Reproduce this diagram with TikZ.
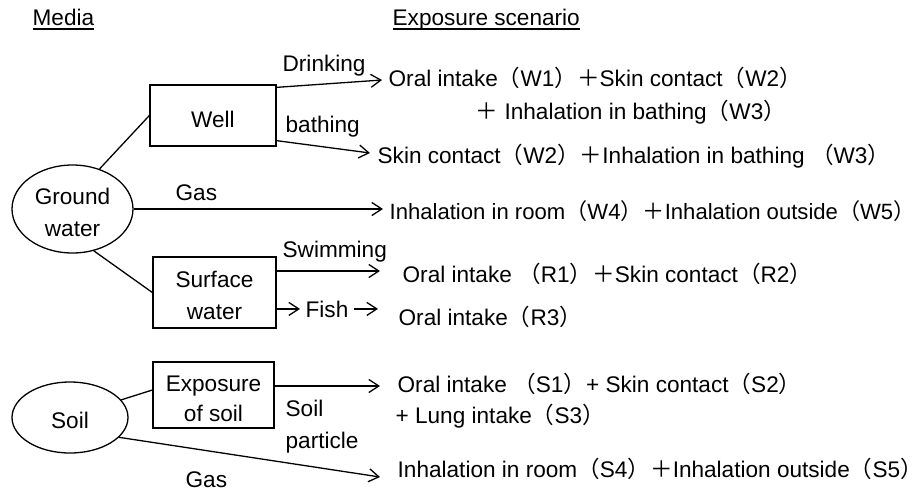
\documentclass[tikz,border=0pt]{standalone}
\usepackage{fontspec}
\setmainfont{Liberation Sans}
\newfontfamily\cjk{Noto Sans CJK JP}
\usetikzlibrary{shapes.geometric,arrows.meta}
\newcommand\LP{{\cjk （}}
\newcommand\RP{{\cjk ）}}
\newcommand\RPe{\makebox[0.32em][l]{\cjk ）}}
\newcommand\PL{{\cjk ＋}}
\newcommand\ulx[1]{\setbox0\hbox{#1}\rlap{\rule[-4.5pt]{\wd0}{1.3pt}}\box0}
\begin{document}
\begin{tikzpicture}[x=1pt,y=-1pt,line width=1.3pt,
  txt/.style={font=\fontsize{22.6}{32}\selectfont, inner sep=0pt, anchor=base west},
  boxn/.style={draw, rectangle, inner sep=0pt, font=\fontsize{22.6}{32}\selectfont},
  elln/.style={draw, ellipse, inner sep=0pt, font=\fontsize{22.6}{32}\selectfont},
  arr/.style={-{Straight Barb[length=10pt,width=13pt]}}]
\useasboundingbox (0,0) rectangle (923,493);
\fill[white] (0,0) rectangle (923,493);
% shapes
\node[boxn, minimum width=126pt, minimum height=61pt, text height=23pt, text depth=0pt] (well) at (213,115.5) {Well};
\node[boxn, align=center, minimum width=123pt, minimum height=71pt] (sw) at (214.5,292.5) {\rule{0pt}{23pt}Surface\\water};
\node[boxn, align=center, minimum width=121pt, minimum height=66pt, font=\fontsize{22.6}{30}\selectfont] (exp) at (213.5,395) {\rule{0pt}{24pt}Exposure\\of soil};
\node[elln, align=center, minimum width=121pt, minimum height=88pt] (gw) at (72.5,209) {\rule{0pt}{24pt}Ground\\water};
\node[elln, minimum width=116pt, minimum height=71pt, text height=21pt, text depth=0pt] (soil) at (70,417.5) {Soil};
% texts
\node[txt] (media) at (32,25) {\ulx{Media}};
\node[txt] (exph) at (392,25) {\ulx{Exposure scenario}};
\node[txt] (drink) at (282,71) {Drinking};
\node[txt] (w1) at (388,86) {Oral intake\LP W1\RP\PL Skin contact\LP W2\RPe};
\node[txt] (w3) at (475,119) {\PL\ Inhalation in bathing\LP W3\RPe};
\node[txt] (bath) at (285,132) {bathing};
\node[txt] (w2) at (377,163) {Skin contact\LP W2\RP\PL Inhalation in bathing \LP W3\RPe};
\node[txt] (gas1) at (175,200) {Gas};
\node[txt, font=\fontsize{22.1}{32}\selectfont] (w4) at (389,219) {Inhalation in room\LP W4\RP\PL Inhalation outside\LP W5\RPe};
\node[txt] (swim) at (282,257) {Swimming};
\node[txt] (r1) at (402,282) {Oral intake \LP R1\RP\PL Skin contact\LP R2\RPe};
\node[txt, inner xsep=5pt] (fish) at (300,317) {Fish};
\node[txt] (r3) at (398,325) {Oral intake\LP R3\RPe};
\node[txt] (s1) at (397,392) {Oral intake \LP S1\RP+ Skin contact\LP S2\RPe};
\node[txt] (s3) at (395,423) {+ Lung intake\LP S3\RPe};
\node[txt, anchor=north west, align=left] (soilp) at (285,399) {Soil\\particle};
\node[txt] (s4) at (397,477) {Inhalation in room\LP S4\RP\PL Inhalation outside\LP S5\RPe};
\node[txt] (gas2) at (185,487) {Gas};
% arrow tips
\coordinate (tW1) at (382,80);
\coordinate (tW2) at (370,153);
\coordinate (tW4) at (383,209);
\coordinate (tR1) at (380,271);
\coordinate (tR3) at (378,309);
\coordinate (tS1) at (380,386);
\coordinate (tS4) at (380,477);
% connectors
\draw (gw.56) -- (well.west);
\draw (gw.-63) -- (sw.west);
\draw (soil.19) -- ([yshift=5pt]exp.west);
\draw[arr] ([yshift=-3pt]well.north east) -- (tW1);
\draw[arr] ([yshift=6pt]well.south east) -- (tW2);
\draw[arr] (gw.east) -- (tW4);
\draw[arr] ([yshift=21.5pt]sw.east) -- (tR1);
\draw[arr] (sw.east |- fish.west) -- (fish.west);
\draw[arr] (fish.east) -- (fish.east -| tR3);
\draw[arr] ([yshift=9pt]exp.east) -- (tS1);
\draw[arr] (soil.-22) -- (tS4);
\end{tikzpicture}
\end{document}
